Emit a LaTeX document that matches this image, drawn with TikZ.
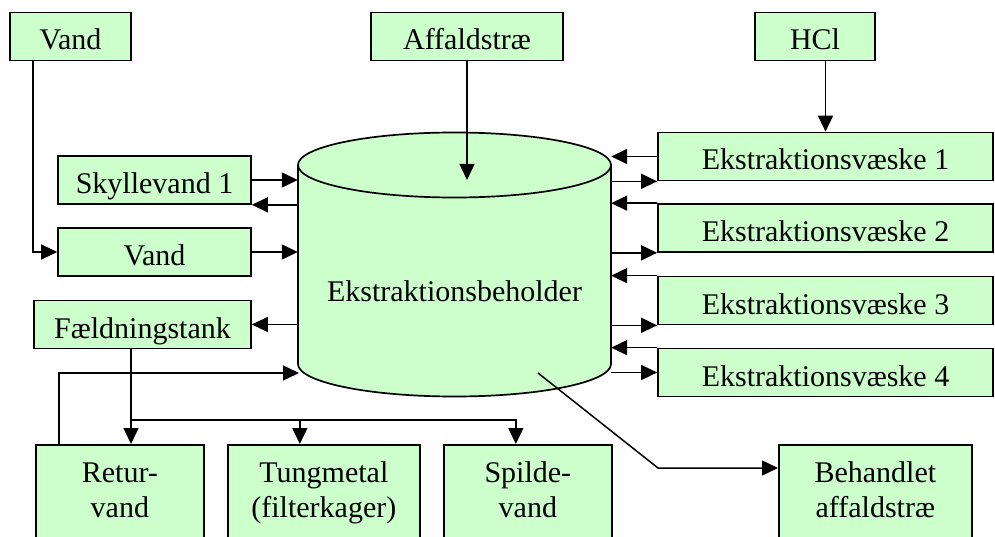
\documentclass[tikz,border=0pt]{standalone}
\usepackage{fontspec}
\setmainfont{Liberation Serif}
\usetikzlibrary{arrows.meta}
\definecolor{boxgreen}{RGB}{204,255,204}
\tikzset{
  box/.style={draw=black, line width=1.7pt, fill=boxgreen, inner sep=0pt,
    minimum height=48pt, text height=33pt, text depth=6pt,
    font=\fontsize{30}{35}\selectfont},
  tallbox/.style={draw=black, line width=1.7pt, fill=boxgreen, inner xsep=0pt, inner ysep=0pt,
    anchor=north west, align=center, text height=73pt, text depth=60pt,
    font=\fontsize{30}{35}\selectfont},
  arr/.style={line width=1.5pt, -{Triangle[length=16pt,width=15pt]}}
}
\begin{document}
\begin{tikzpicture}[x=1pt,y=-1pt]
\useasboundingbox (0,0) rectangle (995,537);
% cylinder
\def\rx{156.5pt}\def\ry{32.5pt}
\path[fill=boxgreen] (298,165) -- (298,364) arc[start angle=180,end angle=360,x radius=\rx,y radius=\ry] -- (611,165) -- cycle;
\draw[line width=1.7pt] (298,165) -- (298,364) arc[start angle=180,end angle=360,x radius=\rx,y radius=\ry] -- (611,165);
\draw[line width=1.7pt, fill=boxgreen] (454.5,165) ellipse[x radius=\rx, y radius=\ry];
\node[inner sep=0pt, minimum width=313pt, minimum height=263pt, text height=20pt, text depth=0pt,
  font=\fontsize{30}{35}\selectfont] (cyl) at (454.5,291) {Ekstraktionsbeholder};
% top boxes
\node[box, minimum width=121pt] (vand1) at (70.5,36.5) {Vand};
\node[box, minimum width=192pt] (aff) at (467,36.5) {Affaldstræ};
\node[box, minimum width=120pt] (hcl) at (815,36.5) {HCl};
% left boxes
\node[box, minimum width=193pt] (sky) at (154.5,180) {Skyllevand 1};
\node[box, minimum width=193pt] (vand2) at (154.5,252) {Vand};
\node[box, minimum width=217pt] (faeld) at (142.5,324.5) {Fældningstank};
% right boxes
\node[box, minimum width=335pt] (ek1) at (825.5,156.5) {Ekstraktionsvæske 1};
\node[box, minimum width=335pt] (ek2) at (825.5,228) {Ekstraktionsvæske 2};
\node[box, minimum width=335pt] (ek3) at (825.5,300.5) {Ekstraktionsvæske 3};
\node[box, minimum width=335pt] (ek4) at (825.5,372.5) {Ekstraktionsvæske 4};
% bottom boxes
\node[tallbox, minimum width=168pt] (ret) at (35,444) {Retur-\\vand};
\node[tallbox, minimum width=192pt] (tung) at (227,444) {Tungmetal\\(filterkager)};
\node[tallbox, minimum width=168pt] (spil) at (443,444) {Spilde-\\vand};
\node[tallbox, minimum width=193pt] (beh) at (778,444) {Behandlet\\affaldstræ};
% coordinates
\coordinate (cyltop) at (467,180);
\coordinate (fs) at (131,348);
\coordinate (br) at (131,420);
\coordinate (cylret) at (299,373);
\coordinate (d1) at (538,373);
\coordinate (d2) at (658,468);
% connectors
\draw[arr] (aff.south) -- (cyltop);
\draw[arr] (hcl.south -| ek1.north) -- (ek1.north);
\draw[arr] ([xshift=24pt]vand1.south west) |- (vand2.west);
\draw[arr] (sky.east) -- (sky.east -| cyl.west);
\draw[arr] (sky.south east -| cyl.west) -- (sky.south east);
\draw[arr] (vand2.east) -- (vand2.east -| cyl.west);
\draw[arr] (faeld.east -| cyl.west) -- (faeld.east);
\draw[arr] (ek1.west) -- (ek1.west -| cyl.east);
\draw[arr] (ek1.south west -| cyl.east) -- (ek1.south west);
\draw[arr] (ek2.north west) -- (ek2.north west -| cyl.east);
\draw[arr] (ek2.south west -| cyl.east) -- (ek2.south west);
\draw[arr] (ek3.north west) -- (ek3.north west -| cyl.east);
\draw[arr] (ek3.south west -| cyl.east) -- (ek3.south west);
\draw[arr] (ek4.north west) -- (ek4.north west -| cyl.east);
\draw[arr] (ek4.west -| cyl.east) -- (ek4.west);
\draw[arr] (fs) -- (fs |- ret.north);
\draw[arr] (br) -| ([xshift=-24pt]tung.north);
\draw[arr] (br) -| ([xshift=-12pt]spil.north);
\draw[arr] ([xshift=24pt]ret.north west) |- (cylret);
\draw[arr] (d1) -- (d2) -- (d2 -| beh.west);
\end{tikzpicture}
\end{document}
